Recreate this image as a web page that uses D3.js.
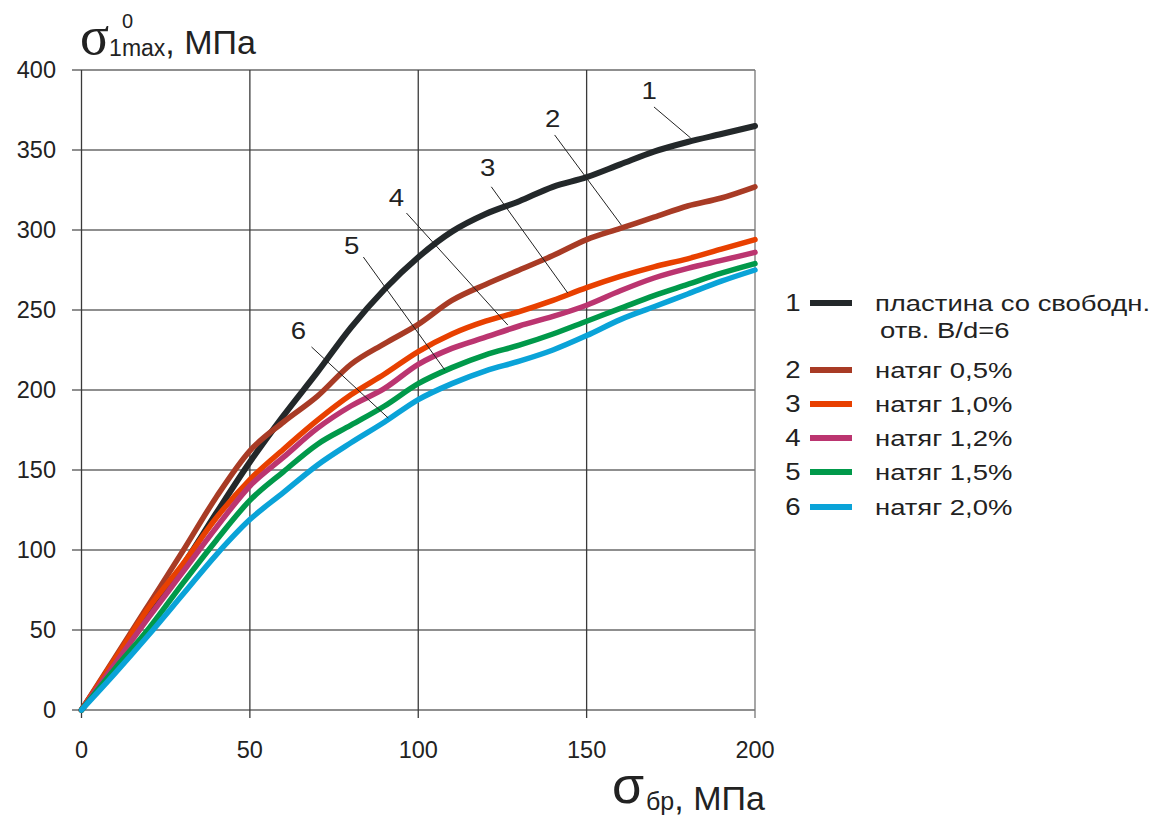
<!DOCTYPE html>
<html><head><meta charset="utf-8">
<script src="https://cdn.jsdelivr.net/npm/d3@7"></script>
<style>
html,body{margin:0;padding:0;background:#fff;}
svg text{font-family:"Liberation Sans",Arial,sans-serif;fill:#222;}
</style></head>
<body>
<svg id="chart" width="1160" height="820"></svg>
<script>
// ---- data ----
const xValues = [0,10,20,30,40,50,60,70,80,90,100,110,120,130,140,150,160,170,180,190,200];
const s1 = [0,30,60,90,123,155,184,211,239,263,283,299,310,318,327,333,341,349,355,360,365];
const s2 = [0,33,66,99,133,162,180,196,216,229,241,256,266,275,284,294,301,308,315,320,327];
const s3 = [0,32,64,91,120,144,163,181,197,210,224,235,243,249,256,264,271,277,282,288,294];
const s4 = [0,29,58,86,114,140,158,176,190,201,216,226,233,240,246,253,262,270,276,281,286];
const s5 = [0,26,51,79,106,131,149,166,178,190,204,214,222,228,235,243,251,259,266,273,279];
const s6 = [0,23,47,72,97,119,136,153,167,180,194,204,212,218,225,234,244,252,260,268,275];
const seriesIds = ["1","2","3","4","5","6"];
const seriesNames = ["пластина со свободн.","натяг 0,5%","натяг 1,0%","натяг 1,2%","натяг 1,5%","натяг 2,0%"];
const xTicks = [0,50,100,150,200];
const yTicks = [0,50,100,150,200,250,300,350,400];
// leader labels: [label, textX, textY, fromX, fromY, toX, toY] in data units
const leaders = [
  ["1",168.6,387.5,170.0,376.9,180.9,357.5],
  ["2",139.9,370.0,140.5,359.4,160.3,303.1],
  ["3",120.6,339.4,121.7,327.0,144.4,260.6],
  ["4",93.5,320.6,96.5,310.6,126.6,240.6],
  ["5",80.2,290.6,83.7,283.1,107.9,212.5],
  ["6",64.4,237.5,68.3,226.9,91.1,182.5]
];
const colors = ["#23282a","#a83b25","#e84000","#bb3570","#00994a","#0aa3d8"];
const allSeries = [s1,s2,s3,s4,s5,s6];

// ---- layout ----
const svg = d3.select("#chart");
svg.append("rect").attr("width",1160).attr("height",820).attr("fill","#fff");
const x = d3.scaleLinear().domain([0,200]).range([81.5,755]);
const y = d3.scaleLinear().domain([0,400]).range([710,70]);

const g = svg.append("g");
g.selectAll("line.h").data(yTicks).enter().append("line")
  .attr("x1",72).attr("x2",x(200)).attr("y1",d=>y(d)).attr("y2",d=>y(d))
  .attr("stroke","#6a6a6a").attr("stroke-width",1.3);
g.selectAll("line.v").data(xTicks).enter().append("line")
  .attr("x1",d=>x(d)).attr("x2",d=>x(d)).attr("y1",y(400)).attr("y2",718)
  .attr("stroke",d=>d===200?"#777":"#3a3a3a").attr("stroke-width",1.3);

// tick labels
g.selectAll("text.yt").data(yTicks).enter().append("text")
  .attr("x",56).attr("y",d=>y(d)).attr("dy","0.36em").attr("text-anchor","end")
  .attr("font-size",23.5).text(d=>d);
g.selectAll("text.xt").data(xTicks).enter().append("text")
  .attr("x",d=>x(d)).attr("y",758).attr("text-anchor","middle")
  .attr("font-size",23.5).text(d=>d);

// curves
const line = d3.line().x((d,i)=>x(xValues[i])).y(d=>y(d)).curve(d3.curveMonotoneX);
allSeries.forEach((s,k)=>{
  svg.append("path").datum(s).attr("d",line).attr("fill","none")
    .attr("stroke",colors[k]).attr("stroke-width",k===0?6:5.5)
    .attr("stroke-linejoin","round").attr("stroke-linecap","round");
});

// leaders
leaders.forEach(l=>{
  svg.append("line").attr("x1",x(l[3])).attr("y1",y(l[4])).attr("x2",x(l[5])).attr("y2",y(l[6]))
    .attr("stroke","#222").attr("stroke-width",1);
  svg.append("text").attr("transform",`translate(${x(l[1])},${y(l[2])}) scale(1.15,1)`)
    .attr("dy","0.36em").attr("text-anchor","middle").attr("font-size",24).text(l[0]);
});

// axis titles
const yt = svg.append("text").attr("x",80).attr("y",54);
yt.append("tspan").attr("font-family","Liberation Serif, Times New Roman, serif").attr("font-size",54).text("σ");
yt.append("tspan").attr("font-size",23).attr("dy",2).text("1max");
yt.append("tspan").attr("font-size",34).attr("dy",-2).text(", МПа");
svg.append("text").attr("x",122).attr("y",28).attr("font-size",20).text("0");

svg.append("text").attr("x",612).attr("y",803)
  .attr("font-family","Liberation Serif, Times New Roman, serif").attr("font-size",52).text("σ");
const xt = svg.append("text").attr("x",646).attr("y",810);
xt.append("tspan").attr("font-size",25).text("бр");
xt.append("tspan").attr("font-size",34).text(", МПа");

// legend
const legRows = [303,370,404,438,472,507];
seriesIds.forEach((id,k)=>{
  const yy = legRows[k];
  svg.append("text").attr("transform",`translate(793,${yy}) scale(1.2,1)`).attr("dy","0.36em")
    .attr("text-anchor","middle").attr("font-size",23).text(id);
  svg.append("line").attr("x1",810).attr("x2",852).attr("y1",yy).attr("y2",yy)
    .attr("stroke",colors[k]).attr("stroke-width",6);
  svg.append("text").attr("transform",`translate(875,${yy}) scale(1.22,1)`).attr("dy","0.36em")
    .attr("font-size",22.5).text(seriesNames[k]);
});
svg.append("text").attr("transform","translate(880,330) scale(1.22,1)").attr("dy","0.36em")
  .attr("font-size",22.5).text("отв. B/d=6");
</script>
</body></html>
